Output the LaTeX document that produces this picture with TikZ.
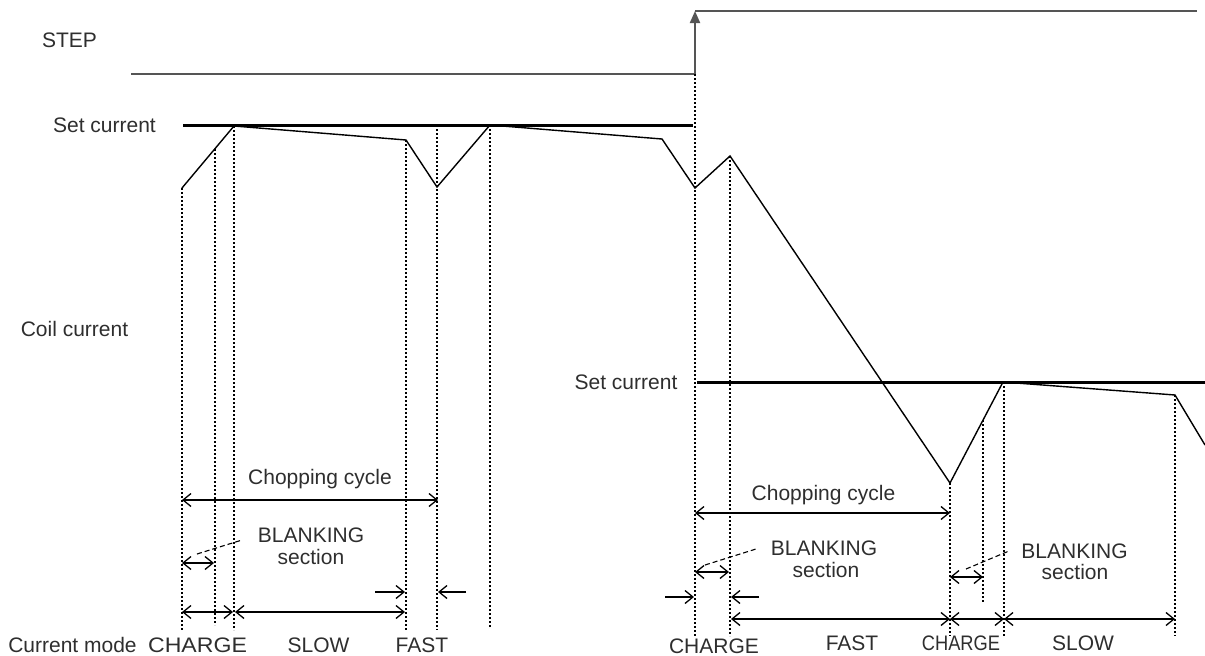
\documentclass[tikz,border=0pt]{standalone}
\usepackage{fontspec}
\usepackage{graphicx}
\setmainfont{Liberation Sans}
\usetikzlibrary{arrows.meta}
\definecolor{txt}{HTML}{2E2E2E}
\definecolor{stepgray}{HTML}{555555}
\begin{document}
\begin{tikzpicture}[x=1pt,y=-1pt,
  lbl/.style={inner sep=0pt, anchor=base, text=txt, font=\fontsize{21}{25}\selectfont},
  stepline/.style={draw=stepgray, line width=2pt},
  setline/.style={draw=black, line width=3pt},
  coil/.style={draw=black, line width=1.4pt, line join=miter},
  guide/.style={draw=black, line width=1.3pt, dash pattern=on 2pt off 2pt},
  leader/.style={draw=black, line width=1.1pt, dash pattern=on 5pt off 3pt},
  barb/.tip={Straight Barb[length=8pt,width=13pt,line width=1.3pt]},
  dim/.style={draw=black, line width=1.3pt, barb-barb},
  into/.style={draw=black, line width=1.3pt, -barb}
]
\useasboundingbox (0,0) rectangle (1205,656);

% ---------- labels ----------
\node[lbl] (lstep) at (69.5,47) {STEP};
\node[lbl] (lset1) at (104.5,132) {Set current};
\node[lbl] (lcoil) at (74.5,336) {Coil current};
\node[lbl] (lmode) at (72.5,652) {Current mode};
\node[lbl] (lset2) at (626,389) {Set current};
\node[lbl] (lchop1) at (320,484) {Chopping cycle};
\node[lbl] (lchop2) at (823.5,500) {Chopping cycle};
\node[lbl] (lbl1) at (311,542) {BLANKING};
\node[lbl] (lsec1) at (311,564) {section};
\node[lbl] (lbl2) at (824,555) {BLANKING};
\node[lbl] (lsec2) at (826,577) {section};
\node[lbl] (lbl3) at (1074.5,558) {BLANKING};
\node[lbl] (lsec3) at (1075,579) {section};
\node[lbl] (mch1) at (197.5,652) {\scalebox{1.1}[1]{CHARGE}};
\node[lbl] (msl1) at (318.5,652) {SLOW};
\node[lbl] (mfa1) at (422,652) {FAST};
\node[lbl] (mch2) at (714,653) {CHARGE};
\node[lbl] (mfa2) at (852,650) {FAST};
\node[lbl] (mch3) at (961,650) {\scalebox{0.87}[1]{CHARGE}};
\node[lbl] (msl2) at (1083,650) {SLOW};

% ---------- STEP signal ----------
\coordinate (sA) at (131,74);
\coordinate (sB) at (695,74);
\coordinate (sC) at (695,11);
\coordinate (sD) at (1197,11);
\draw[stepline] (sA) -- (sB);
\draw[stepline, -{Triangle[length=12pt,width=10pt]}] (sB) -- (sC);
\draw[stepline] (sC) -- (sD);

% ---------- set current levels ----------
\coordinate (c1a) at (183,125);
\coordinate (c1b) at (693,125);
\coordinate (c2a) at (697,382);
\coordinate (c2b) at (1205,382);
\draw[setline] (c1a) -- (c1b);
\draw[setline] (c2a) -- (c2b);

% ---------- coil current ----------
\coordinate (p0) at (182,188);
\coordinate (p1) at (234,126);
\coordinate (p2) at (406,140);
\coordinate (p3) at (437,187);
\coordinate (p4) at (490,125);
\coordinate (p5) at (662,139);
\coordinate (p6) at (695,188);
\coordinate (p7) at (730,156);
\coordinate (p8) at (950,483);
\coordinate (p9) at (1003,382);
\coordinate (p10) at (1175,395);
\coordinate (p11) at (1205,445);
\draw[coil] (p0) -- (p1) -- (p2) -- (p3) -- (p4) -- (p5) -- (p6) -- (p7) -- (p8) -- (p9) -- (p10) -- (p11);

% ---------- guide lines ----------
\coordinate (q1) at (215,149);
\coordinate (q2) at (983,420);
\coordinate (g0) at (182,630);
\coordinate (g1) at (215,625);
\coordinate (g2) at (234,630);
\coordinate (g3) at (406,630);
\coordinate (t4) at (437,125);
\coordinate (g4) at (437,630);
\coordinate (g5) at (490,628);
\coordinate (g6) at (695,636);
\coordinate (g7) at (730,636);
\coordinate (g8) at (950,636);
\coordinate (g9) at (983,603);
\coordinate (t10) at (1004,382);
\coordinate (g10) at (1004,636);
\coordinate (g11) at (1175,636);
\draw[guide] (p0) -- (g0);
\draw[guide] (q1) -- (g1);
\draw[guide] (p1) -- (g2);
\draw[guide] (p2) -- (g3);
\draw[guide] (t4) -- (g4);
\draw[guide] (p4) -- (g5);
\draw[guide] (sB) -- (g6);
\draw[guide] (p7) -- (g7);
\draw[guide] (p8) -- (g8);
\draw[guide] (q2) -- (g9);
\draw[guide] (t10) -- (g10);
\draw[guide] (p10) -- (g11);

% ---------- dimension arrows (left) ----------
\coordinate (a1l) at (182,500);  \coordinate (a1r) at (438,500);
\draw[dim] (a1l) -- (a1r);
\coordinate (b1l) at (182,563);  \coordinate (b1r) at (214,563);
\draw[dim] (b1l) -- (b1r);
\coordinate (f1a) at (375,592);  \coordinate (f1b) at (405,592);
\coordinate (f1c) at (466,592);  \coordinate (f1d) at (438,592);
\draw[into] (f1a) -- (f1b);
\draw[into] (f1c) -- (f1d);
\coordinate (m1a) at (182,612);  \coordinate (m1b) at (233,612);
\coordinate (m1c) at (235,612);  \coordinate (m1d) at (405,612);
\draw[dim] (m1a) -- (m1b);
\draw[dim] (m1c) -- (m1d);

% ---------- dimension arrows (right) ----------
\coordinate (a2l) at (695,513);  \coordinate (a2r) at (950,513);
\draw[dim] (a2l) -- (a2r);
\coordinate (b2l) at (695,572);  \coordinate (b2r) at (729,572);
\draw[dim] (b2l) -- (b2r);
\coordinate (b3l) at (950,577);  \coordinate (b3r) at (983,577);
\draw[dim] (b3l) -- (b3r);
\coordinate (f2a) at (665,597);  \coordinate (f2b) at (694,597);
\coordinate (f2c) at (759,597);  \coordinate (f2d) at (731,597);
\draw[into] (f2a) -- (f2b);
\draw[into] (f2c) -- (f2d);
\coordinate (m2a) at (731,619);  \coordinate (m2b) at (950,619);
\coordinate (m2c) at (1004,619); \coordinate (m2d) at (1175,619);
\draw[dim] (m2a) -- (m2b);
\draw[dim] (m2b) -- (m2c);
\draw[dim] (m2c) -- (m2d);

% ---------- blanking leaders ----------
\coordinate (l1a) at (197,554);  \coordinate (l1b) at (242,540);
\coordinate (l2a) at (705,565);  \coordinate (l2b) at (756,549);
\coordinate (l3a) at (966,569);  \coordinate (l3b) at (1009,551);
\draw[leader] (l1a) -- (l1b);
\draw[leader] (l2a) -- (l2b);
\draw[leader] (l3a) -- (l3b);
\end{tikzpicture}
\end{document}
